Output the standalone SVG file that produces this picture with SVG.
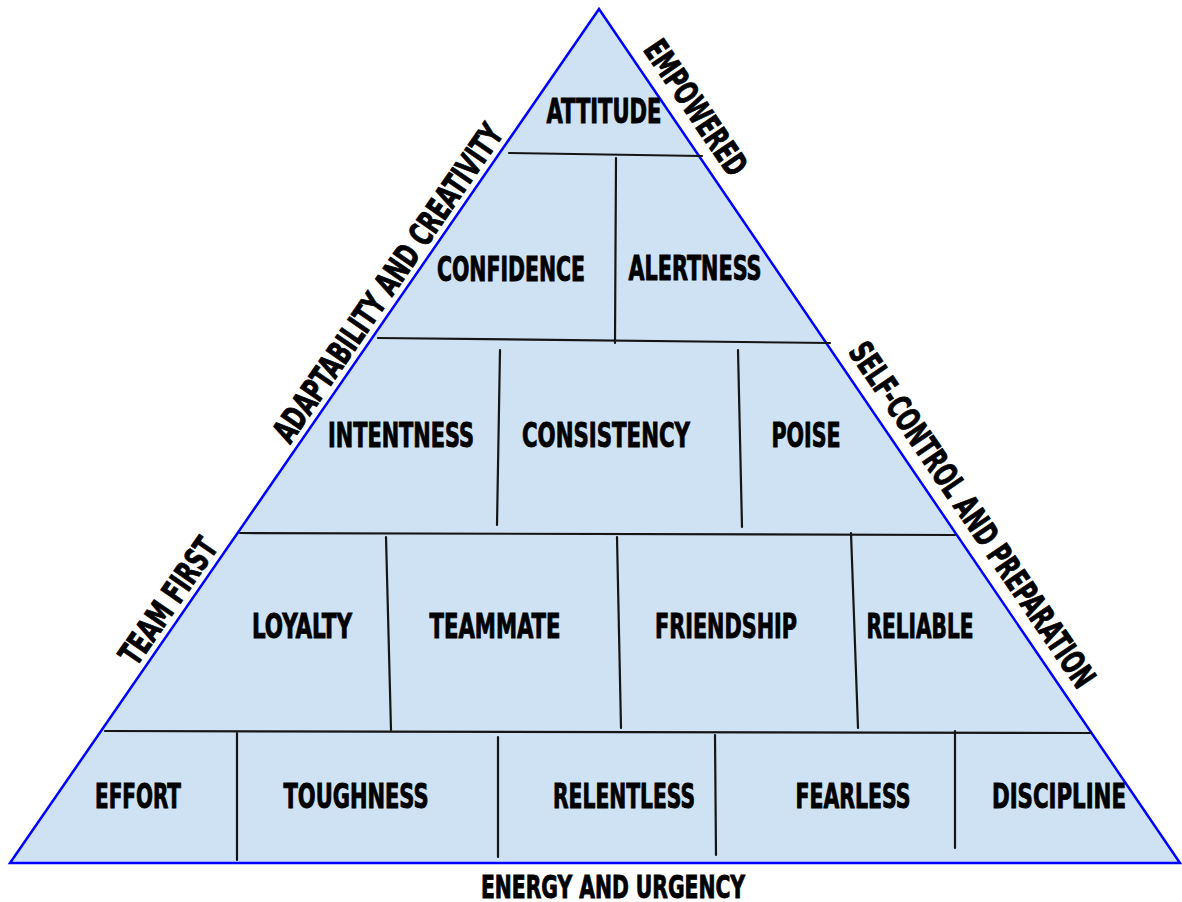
<svg xmlns="http://www.w3.org/2000/svg" width="1182" height="902" viewBox="0 0 1182 902">
<style>
.t{font-family:"Liberation Sans Narrow","DejaVu Sans Condensed","Liberation Sans",sans-serif;font-weight:bold;font-size:33px;fill:#000;stroke:#000;stroke-width:0.9px;text-anchor:middle}
.ln{stroke:#151515;stroke-width:2.2;fill:none;stroke-linecap:round}
</style>
<rect width="1182" height="902" fill="#fff"/>
<g id="pyramid">
<polygon points="599,9 10,863 1180,863" fill="#cfe2f3" stroke="#0000ff" stroke-width="2.5" stroke-linejoin="miter"/>
</g>
<g id="connectors">
<line class="ln" x1="509" y1="153" x2="702" y2="156"/>
<line class="ln" x1="378" y1="338" x2="830" y2="343"/>
<line class="ln" x1="240" y1="533" x2="955" y2="535"/>
<line class="ln" x1="105" y1="731" x2="1090" y2="733"/>
<line class="ln" x1="616" y1="158" x2="615" y2="343"/>
<line class="ln" x1="500" y1="350" x2="497" y2="525"/>
<line class="ln" x1="738" y1="350" x2="742" y2="527"/>
<line class="ln" x1="386" y1="537" x2="391" y2="730"/>
<line class="ln" x1="617" y1="537" x2="621" y2="728"/>
<line class="ln" x1="851" y1="533" x2="858" y2="728"/>
<line class="ln" x1="237" y1="733" x2="237" y2="860"/>
<line class="ln" x1="498" y1="737" x2="498" y2="857"/>
<line class="ln" x1="715" y1="735" x2="716" y2="855"/>
<line class="ln" x1="955" y1="731" x2="955" y2="848"/>
</g>
<g id="attitude"><text class="t" x="604" y="123" textLength="115" lengthAdjust="spacingAndGlyphs">ATTITUDE</text></g>
<g id="confidence"><text class="t" x="511" y="281" textLength="148" lengthAdjust="spacingAndGlyphs">CONFIDENCE</text></g>
<g id="alertness"><text class="t" x="695" y="280" textLength="133" lengthAdjust="spacingAndGlyphs">ALERTNESS</text></g>
<g id="intentness"><text class="t" x="401" y="447" textLength="146" lengthAdjust="spacingAndGlyphs">INTENTNESS</text></g>
<g id="consistency"><text class="t" x="606" y="447" textLength="168" lengthAdjust="spacingAndGlyphs">CONSISTENCY</text></g>
<g id="poise"><text class="t" x="806" y="447" textLength="69" lengthAdjust="spacingAndGlyphs">POISE</text></g>
<g id="loyalty"><text class="t" x="302" y="638" textLength="100" lengthAdjust="spacingAndGlyphs">LOYALTY</text></g>
<g id="teammate"><text class="t" x="495" y="638" textLength="131" lengthAdjust="spacingAndGlyphs">TEAMMATE</text></g>
<g id="friendship"><text class="t" x="726" y="638" textLength="142" lengthAdjust="spacingAndGlyphs">FRIENDSHIP</text></g>
<g id="reliable"><text class="t" x="920" y="638" textLength="107" lengthAdjust="spacingAndGlyphs">RELIABLE</text></g>
<g id="effort"><text class="t" x="138" y="808" textLength="86" lengthAdjust="spacingAndGlyphs">EFFORT</text></g>
<g id="toughness"><text class="t" x="356" y="808" textLength="145" lengthAdjust="spacingAndGlyphs">TOUGHNESS</text></g>
<g id="relentless"><text class="t" x="624" y="808" textLength="142" lengthAdjust="spacingAndGlyphs">RELENTLESS</text></g>
<g id="fearless"><text class="t" x="853" y="808" textLength="115" lengthAdjust="spacingAndGlyphs">FEARLESS</text></g>
<g id="discipline"><text class="t" x="1059" y="808" textLength="134" lengthAdjust="spacingAndGlyphs">DISCIPLINE</text></g>
<g id="energy"><text class="t" x="613" y="898" textLength="264" lengthAdjust="spacingAndGlyphs" style="font-size:32px">ENERGY AND URGENCY</text></g>
<g id="empowered"><text class="t" transform="translate(675.5,121.5) rotate(55.8)" x="0" y="-13" textLength="156" lengthAdjust="spacingAndGlyphs">EMPOWERED</text></g>
<g id="self-control"><text class="t" transform="translate(952,528.5) rotate(55.8)" x="0" y="-13" textLength="410" lengthAdjust="spacingAndGlyphs">SELF-CONTROL AND PREPARATION</text></g>
<g id="adaptability"><text class="t" transform="translate(403,293.5) rotate(-55.4)" x="0" y="-7" textLength="378" lengthAdjust="spacingAndGlyphs">ADAPTABILITY AND CREATIVITY</text></g>
<g id="team-first"><text class="t" transform="translate(183.5,611.5) rotate(-55.4)" x="0" y="-7" textLength="146" lengthAdjust="spacingAndGlyphs">TEAM FIRST</text></g>
</svg>
